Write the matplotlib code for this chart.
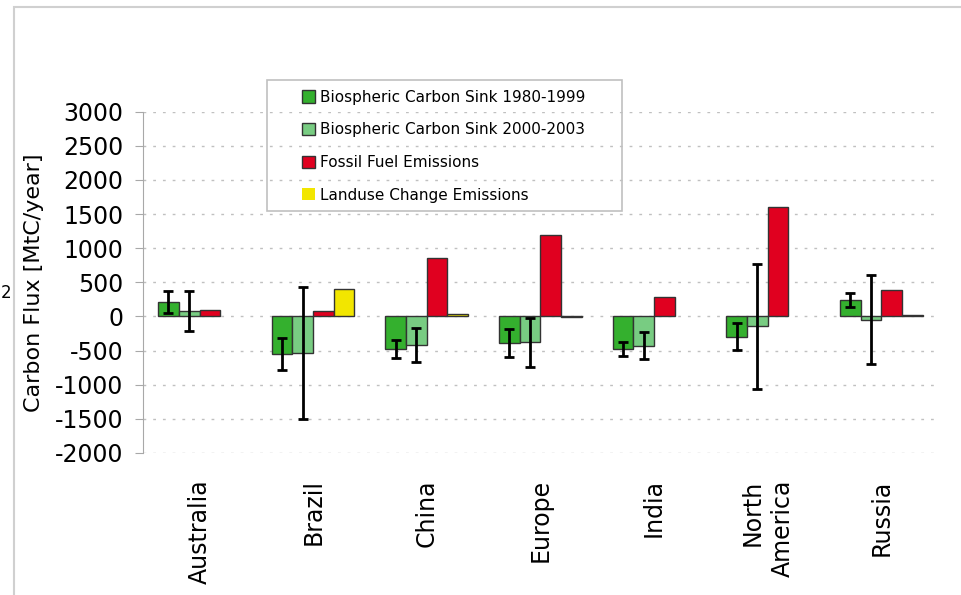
import numpy as np
import matplotlib
matplotlib.use("Agg")
import matplotlib.pyplot as plt
from matplotlib.patches import Rectangle

plt.rcParams['font.family'] = ['DejaVu Sans']
plt.rcParams['axes.unicode_minus'] = False

# data (MtC/year)
regions = ['Australia', 'Brazil', 'China', 'Europe', 'India', 'North\nAmerica', 'Russia']
sink_1980 = [210, -550, -470, -395, -472, -295, 240]
sink_1980_err = [160, 232, 132, 205, 103, 198, 105]
sink_2000 = [75, -535, -420, -378, -430, -144, -48]
sink_2000_err = [295, 964, 250, 359, 200, 918, 652]
fossil = [90, 80, 850, 1200, 290, 1600, 390]
landuse = [0, 400, 35, -15, 0, 0, 15]

labels = ['Biospheric Carbon Sink 1980-1999', 'Biospheric Carbon Sink 2000-2003',
          'Fossil Fuel Emissions', 'Landuse Change Emissions']
colors = ['#34b02e', '#78cc82', '#e0001f', '#f2e600']

fig = plt.figure(figsize=(9.61, 5.95), dpi=100)
ax = fig.add_axes([0.1485, 0.2387, 0.8276, 0.5736])

x = np.arange(len(regions))
w = 0.182
offs = [-1.5 * w, -0.5 * w, 0.5 * w, 1.5 * w]
series = [sink_1980, sink_2000, fossil, landuse]
errs = [sink_1980_err, sink_2000_err, None, None]

handles = []
for k in range(4):
    lw = [0 if v == 0 else 1.0 for v in series[k]]
    b = ax.bar(x + offs[k], series[k], w, color=colors[k], edgecolor='#333333',
               linewidth=lw, zorder=2)
    handles.append(b)
    if errs[k] is not None:
        ax.errorbar(x + offs[k], series[k], yerr=errs[k], fmt='none', ecolor='black',
                    elinewidth=2, capsize=3.5, capthick=2, zorder=3)

ax.set_xlim(-0.5, 6.5)
ax.set_ylim(-2000, 3000)
ax.set_yticks(np.arange(-2000, 3001, 500))
ax.yaxis.grid(True, color='#c0c0c0', linestyle=(0, (2, 5)), linewidth=1, zorder=0)
ax.set_axisbelow(True)
for s in ['top', 'right', 'bottom']:
    ax.spines[s].set_visible(False)
ax.spines['left'].set_color('#a8a8a8')
ax.tick_params(axis='y', labelsize=17, length=6, color='#a8a8a8', pad=8)
ax.tick_params(axis='x', length=0, pad=19)
ax.set_xticks(x)
ax.set_xticklabels(regions, rotation=90, fontsize=17, va='top', ha='center',
                   multialignment='right', linespacing=1.3)
ax.set_ylabel('Carbon Flux [MtC/year]', fontsize=16)
ax.yaxis.set_label_coords(-0.124, 0.5)

# legend with a hand-drawn frame
fig.add_artist(Rectangle((267 / 961, 1 - 211 / 595), 355 / 961, 131 / 595,
                         transform=fig.transFigure, fill=False,
                         edgecolor='#c0c0c0', linewidth=1.2))
fig.legend(handles, labels, loc='upper left', bbox_to_anchor=(0.3143, 0.849),
           frameon=False, fontsize=11, handlelength=0.85, handleheight=0.85,
           handletextpad=0.3, labelspacing=1.15, borderpad=0, borderaxespad=0)

# outer frame of the original slide
fig.add_artist(Rectangle((13.5 / 961, -0.1), 1.2, 1.1 - 7.5 / 595,
                         transform=fig.transFigure, fill=False,
                         edgecolor='#d0d0d0', linewidth=1.5))
fig.text(0.001, 1 - 293 / 595, '2', fontsize=12, va='center', ha='left')

fig.savefig('out.png', dpi=100)
